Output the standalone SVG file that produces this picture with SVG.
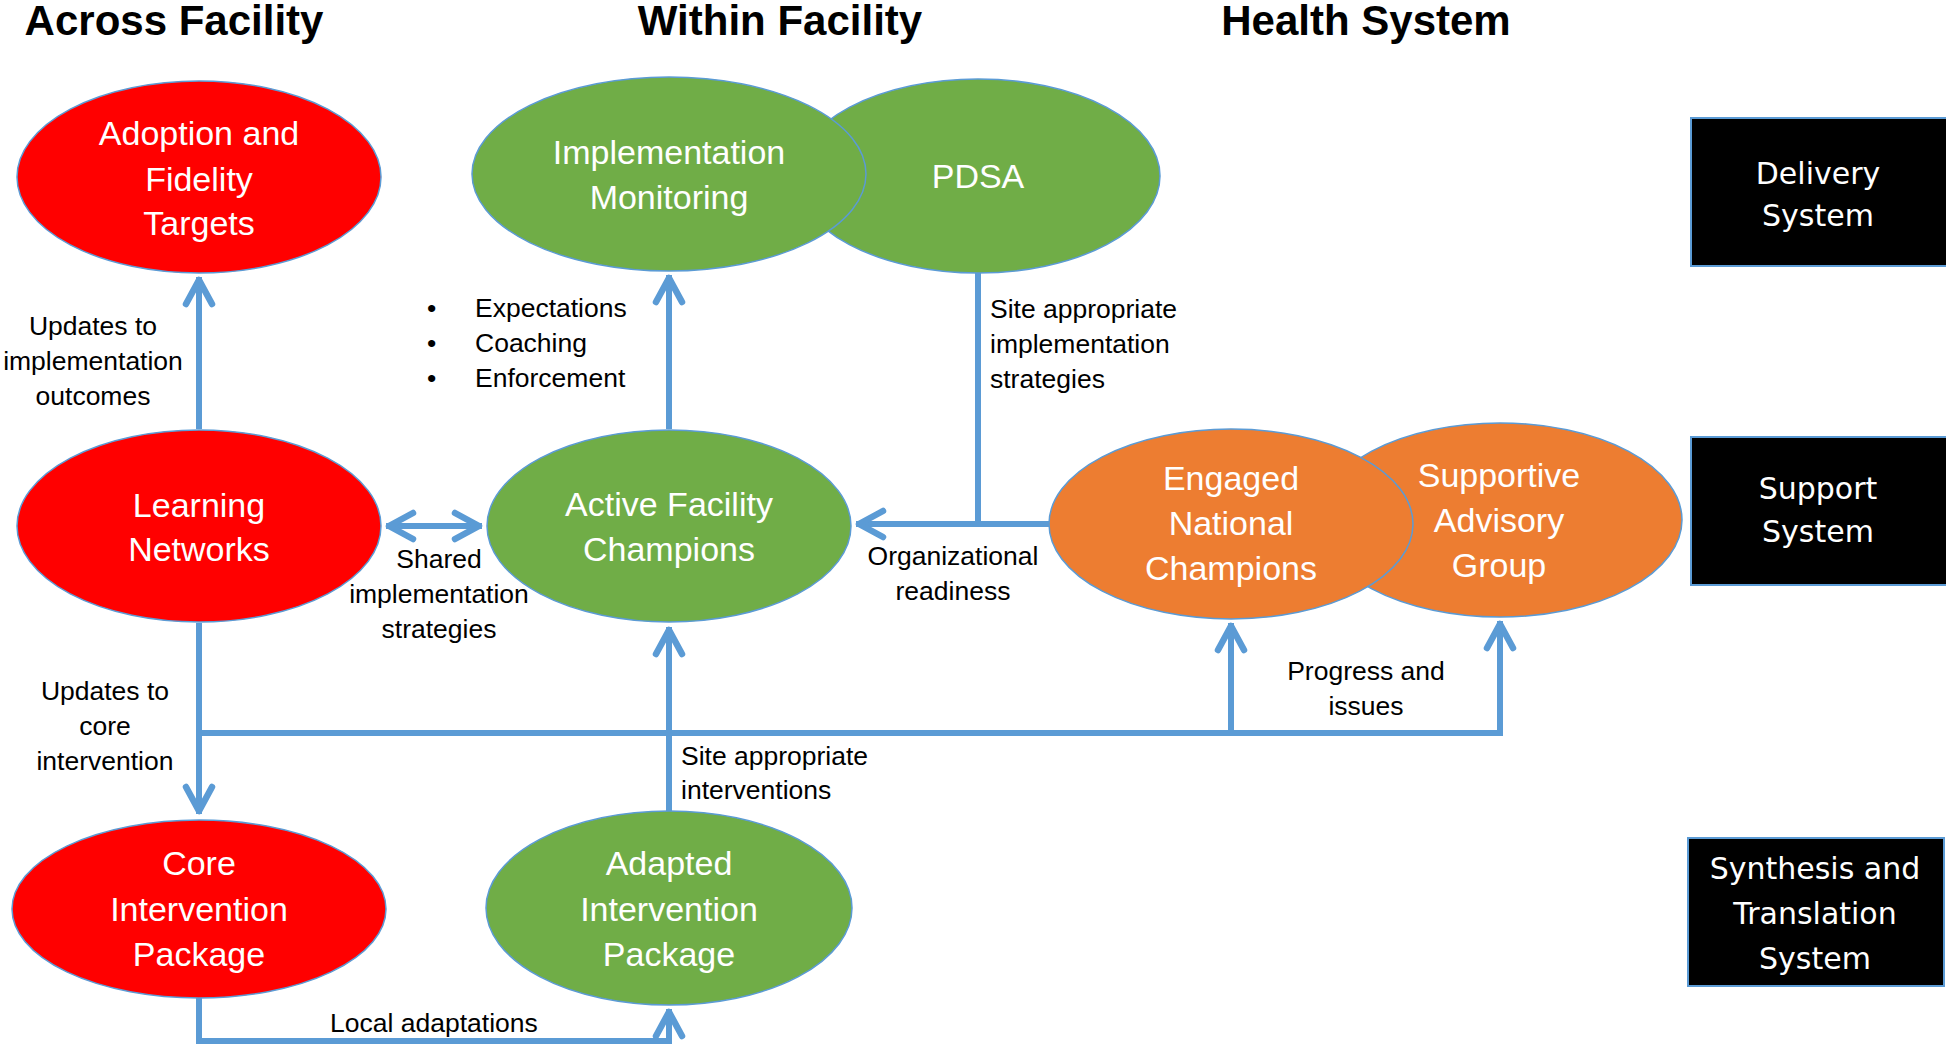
<svg xmlns="http://www.w3.org/2000/svg" width="1946" height="1046" viewBox="0 0 1946 1046">
<defs>
<style>
.head{font-family:"Liberation Sans",Arial,sans-serif;font-weight:bold;font-size:42px;fill:#000;text-anchor:middle}
.nt{font-family:"Liberation Sans",Arial,sans-serif;font-size:34px;fill:#fff;text-anchor:middle}
.bt{font-family:"DejaVu Sans",Verdana,sans-serif;font-size:30px;fill:#fff;text-anchor:middle}
.lb{font-family:"Liberation Sans",Arial,sans-serif;font-size:26.5px;fill:#000}
.c{text-anchor:middle}
.red{fill:#FF0000;stroke:#5B9BD5;stroke-width:1.5}
.green{fill:#70AD47;stroke:#5B9BD5;stroke-width:1.5}
.orange{fill:#ED7D31;stroke:#5B9BD5;stroke-width:1.5}
.box{fill:#000;stroke:#5B9BD5;stroke-width:2}
.conn path{fill:none;stroke:#5B9BD5;stroke-width:6;stroke-linejoin:miter}
</style>
<marker id="arr" markerUnits="userSpaceOnUse" viewBox="-32 -18 38 36" markerWidth="38" markerHeight="36" refX="3" refY="0" orient="auto-start-reverse">
<path d="M -24 -13 L 0 0 L -24 13" fill="none" stroke="#5B9BD5" stroke-width="6.5" stroke-linecap="round" stroke-linejoin="round"/>
</marker>
</defs>

<g id="headings">
<text class="head" x="174" y="35">Across Facility</text>
<text class="head" x="780" y="35">Within Facility</text>
<text class="head" x="1366" y="35">Health System</text>
</g>

<g id="connectors" class="conn">
<path d="M199 429 V277" marker-end="url(#arr)"/>
<path d="M669 429 V275" marker-end="url(#arr)"/>
<path d="M978 273 V524"/>
<path d="M1049 524 H856" marker-end="url(#arr)"/>
<path d="M386 526 H482" marker-start="url(#arr)" marker-end="url(#arr)"/>
<path d="M199 623 V814" marker-end="url(#arr)"/>
<path d="M199 733 H1500 V621" marker-end="url(#arr)"/>
<path d="M1231 733 V623" marker-end="url(#arr)"/>
<path d="M669 811 V627" marker-end="url(#arr)"/>
<path d="M199 998 V1041 H669 V1009" marker-end="url(#arr)"/>
</g>

<g id="adoption">
<ellipse class="red" cx="199" cy="177" rx="182" ry="96"/>
<text class="nt" x="199" y="145">Adoption and</text>
<text class="nt" x="199" y="191">Fidelity</text>
<text class="nt" x="199" y="235">Targets</text>
</g>

<g id="pdsa">
<ellipse class="green" cx="978" cy="176" rx="182" ry="97"/>
<text class="nt" x="978" y="188">PDSA</text>
</g>

<g id="implementation-monitoring">
<ellipse class="green" cx="669" cy="174" rx="197" ry="97"/>
<text class="nt" x="669" y="164">Implementation</text>
<text class="nt" x="669" y="209">Monitoring</text>
</g>

<g id="learning-networks">
<ellipse class="red" cx="199" cy="526" rx="182" ry="96"/>
<text class="nt" x="199" y="517">Learning</text>
<text class="nt" x="199" y="561">Networks</text>
</g>

<g id="active-facility-champions">
<ellipse class="green" cx="669" cy="526" rx="182" ry="96"/>
<text class="nt" x="669" y="516">Active Facility</text>
<text class="nt" x="669" y="561">Champions</text>
</g>

<g id="supportive-advisory-group">
<ellipse class="orange" cx="1500" cy="520" rx="182" ry="97"/>
<text class="nt" x="1499" y="487">Supportive</text>
<text class="nt" x="1499" y="532">Advisory</text>
<text class="nt" x="1499" y="577">Group</text>
</g>

<g id="engaged-national-champions">
<ellipse class="orange" cx="1231" cy="524" rx="182" ry="95"/>
<text class="nt" x="1231" y="490">Engaged</text>
<text class="nt" x="1231" y="535">National</text>
<text class="nt" x="1231" y="580">Champions</text>
</g>

<g id="core-intervention-package">
<ellipse class="red" cx="199" cy="909" rx="187" ry="89"/>
<text class="nt" x="199" y="875">Core</text>
<text class="nt" x="199" y="921">Intervention</text>
<text class="nt" x="199" y="966">Package</text>
</g>

<g id="adapted-intervention-package">
<ellipse class="green" cx="669" cy="908" rx="183" ry="97"/>
<text class="nt" x="669" y="875">Adapted</text>
<text class="nt" x="669" y="921">Intervention</text>
<text class="nt" x="669" y="966">Package</text>
</g>

<g id="delivery-system">
<rect class="box" x="1691" y="118" width="256" height="148"/>
<text class="bt" x="1818" y="184">Delivery</text>
<text class="bt" x="1818" y="226">System</text>
</g>

<g id="support-system">
<rect class="box" x="1691" y="437" width="256" height="148"/>
<text class="bt" x="1818" y="499">Support</text>
<text class="bt" x="1818" y="542">System</text>
</g>

<g id="synthesis-translation-system">
<rect class="box" x="1688" y="838" width="256" height="148"/>
<text class="bt" x="1815" y="879">Synthesis and</text>
<text class="bt" x="1815" y="924">Translation</text>
<text class="bt" x="1815" y="969">System</text>
</g>

<g id="labels">
<text class="lb c" x="93" y="335">Updates to</text>
<text class="lb c" x="93" y="370">implementation</text>
<text class="lb c" x="93" y="405">outcomes</text>

<text class="lb" x="427" y="317">•</text>
<text class="lb" x="427" y="352">•</text>
<text class="lb" x="427" y="387">•</text>
<text class="lb" x="475" y="317">Expectations</text>
<text class="lb" x="475" y="352">Coaching</text>
<text class="lb" x="475" y="387">Enforcement</text>

<text class="lb" x="990" y="318">Site appropriate</text>
<text class="lb" x="990" y="353">implementation</text>
<text class="lb" x="990" y="388">strategies</text>

<text class="lb c" x="439" y="568">Shared</text>
<text class="lb c" x="439" y="603">implementation</text>
<text class="lb c" x="439" y="638">strategies</text>

<text class="lb c" x="953" y="565">Organizational</text>
<text class="lb c" x="953" y="600">readiness</text>

<text class="lb c" x="105" y="700">Updates to</text>
<text class="lb c" x="105" y="735">core</text>
<text class="lb c" x="105" y="770">intervention</text>

<text class="lb" x="681" y="765">Site appropriate</text>
<text class="lb" x="681" y="799">interventions</text>

<text class="lb c" x="1366" y="680">Progress and</text>
<text class="lb c" x="1366" y="715">issues</text>

<text class="lb" x="330" y="1032">Local adaptations</text>
</g>
</svg>
